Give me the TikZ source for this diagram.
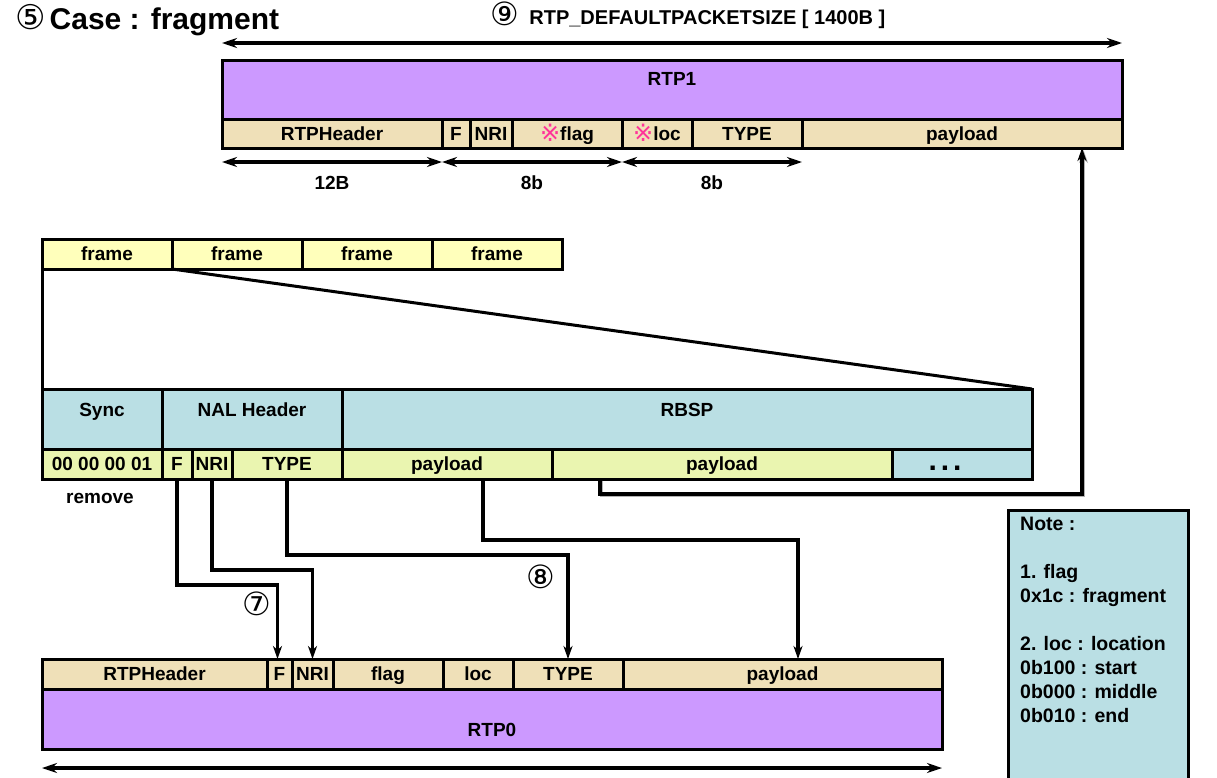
\documentclass[tikz,border=0pt]{standalone}
\usepackage{fontspec}
\setmainfont{Liberation Sans}
\newfontfamily\symf{DejaVu Sans}
\usetikzlibrary{arrows.meta}
\definecolor{rtpc}{RGB}{204,153,255}
\definecolor{tanc}{RGB}{239,224,184}
\definecolor{frmc}{RGB}{255,255,187}
\definecolor{nalc}{RGB}{186,223,228}
\definecolor{payc}{RGB}{234,245,176}
\definecolor{markc}{RGB}{255,51,153}
\newcommand\mkfield[7]{\node[box,fill=#2,minimum width={#4-#3},minimum height={#6-#5}] (#1) at ({(#3+#4)/2},{(#5+#6)/2}) {#7};}
\newcommand\rmk{{\symf\mdseries\fontsize{24}{24}\selectfont\color{markc}\raisebox{-1pt}{※}}}
\begin{document}
\begin{tikzpicture}[x=1pt,y=-1pt,
  lblfont/.style={font=\fontsize{19}{24}\selectfont\bfseries},
  box/.style={draw=black,line width=3pt,outer sep=0pt,inner sep=0pt,lblfont,text height=15pt,text depth=1.4pt},
  lbl/.style={lblfont,inner sep=0pt,text height=15pt,text depth=1.4pt},
  dbl/.style={{Stealth[length=15pt,width=10pt,inset=5pt]}-{Stealth[length=15pt,width=10pt,inset=5pt]},line width=3.2pt},
  conn/.style={-{Stealth[length=13pt,width=9pt,inset=4pt]},line width=3.2pt},
  plain/.style={line width=3pt},
  circ/.style={font=\symf\mdseries\fontsize{32}{34}\selectfont,inner sep=0pt}]
\useasboundingbox[fill=white] (0,0) rectangle (1217,777);

% title
\node[anchor=west,inner sep=0pt,font=\fontsize{30}{34}\selectfont\bfseries] (title) at (15,20) {{\symf\mdseries\fontsize{34}{36}\selectfont ⑤}\hspace{4pt}Case : fragment};
\node[lbl,font=\fontsize{20}{24}\selectfont\bfseries] (size) at (688,18) {{\symf\mdseries\fontsize{32}{34}\selectfont\raisebox{-1pt}{⑨}}\hspace{10pt}RTP\_DEFAULTPACKETSIZE [ 1400B ]};

% RTP1
\mkfield{r1}{rtpc}{222}{1122}{60}{119}{}
\node[lbl] (r1t) at (672,79) {RTP1};
\mkfield{r1H}{tanc}{222}{442}{119}{148}{RTPHeader}
\mkfield{r1F}{tanc}{442}{470}{119}{148}{F}
\mkfield{r1N}{tanc}{470}{512}{119}{148}{NRI}
\mkfield{r1fl}{tanc}{512}{622}{119}{148}{\rmk flag}
\mkfield{r1lc}{tanc}{622}{692}{119}{148}{\rmk loc}
\mkfield{r1T}{tanc}{692}{802}{119}{148}{TYPE}
\mkfield{r1P}{tanc}{802}{1122}{119}{148}{payload}

\draw[dbl] ([yshift=17pt]r1.north west) -- ([yshift=17pt]r1.north east);
\draw[dbl] ([yshift=-14pt]r1H.south west) -- ([yshift=-14pt]r1H.south east);
\draw[dbl] ([yshift=-14pt]r1F.south west) -- ([yshift=-14pt]r1fl.south east);
\draw[dbl] ([yshift=-14pt]r1lc.south west) -- ([yshift=-14pt]r1T.south east);
\node[lbl] (b12) at (332,183) {12B};
\node[lbl] (b8a) at (532,183) {8b};
\node[lbl] (b8b) at (712,183) {8b};

% frames
\mkfield{fr1}{frmc}{42}{172}{239}{269}{frame}
\mkfield{fr2}{frmc}{172}{302}{239}{269}{frame}
\mkfield{fr3}{frmc}{302}{432}{239}{269}{frame}
\mkfield{fr4}{frmc}{432}{562}{239}{269}{frame}

% NAL
\mkfield{nal}{nalc}{42}{1032}{389}{479}{}
\mkfield{sync}{nalc}{42}{162}{389}{449}{}
\mkfield{nalh}{nalc}{162}{342}{389}{449}{}
\mkfield{rbsp}{nalc}{342}{1032}{389}{449}{}
\node[lbl] (tsync) at (102,410) {Sync};
\node[lbl] (tnalh) at (252,410) {NAL Header};
\node[lbl] (trbsp) at (687,410) {RBSP};
\mkfield{n0}{payc}{42}{162}{449}{479}{00 00 00 01}
\mkfield{nF}{payc}{162}{192}{449}{479}{F}
\mkfield{nN}{payc}{192}{232}{449}{479}{NRI}
\mkfield{nT}{payc}{232}{342}{449}{479}{TYPE}
\mkfield{nP1}{payc}{342}{552}{449}{479}{payload}
\mkfield{nP2}{payc}{552}{892}{449}{479}{payload}
\mkfield{ndots}{nalc}{892}{1032}{449}{479}{\hspace*{-34pt}{\fontsize{30}{30}\selectfont.\hspace{4pt}.\hspace{4pt}.}}
\node[lbl] (rm) at (100,497) {remove};

\draw[plain] (fr1.south west) -- (sync.north west);
\draw[plain] (fr1.south east) -- (rbsp.north east);

% RTP0
\mkfield{pH}{tanc}{42}{267}{659}{689}{RTPHeader}
\mkfield{pF}{tanc}{267}{292}{659}{689}{F}
\mkfield{pN}{tanc}{292}{333}{659}{689}{NRI}
\mkfield{pfl}{tanc}{333}{443}{659}{689}{flag}
\mkfield{plc}{tanc}{443}{513}{659}{689}{loc}
\mkfield{pT}{tanc}{513}{623}{659}{689}{TYPE}
\mkfield{pP}{tanc}{623}{942}{659}{689}{payload}
\mkfield{pR}{rtpc}{42}{942}{689}{749}{}
\node[lbl] (pRt) at (492,730) {RTP0};
\draw[dbl] ([yshift=-19pt]pR.south west) -- ([yshift=-19pt]pR.south east);

% connectors
\draw[conn,gray!60] ([xshift=-120.5pt,yshift=-1.5pt]nP2.south) -- ++(0,15) -| ([xshift=121.5pt,yshift=-2pt]r1P.south);
\draw[conn] ([xshift=-122pt]nP2.south) -- ++(0,15) -| ([xshift=120pt]r1P.south);
\draw[conn] (nF.south) -- ++(0,106) -| ([xshift=-2pt]pF.north);
\draw[conn] (nN.south) -- ++(0,91) -| (pN.north);
\draw[conn] (nT.south) -- ++(0,76) -| (pT.north);
\draw[conn] ([xshift=36pt]nP1.south) -- ++(0,61) -| ([xshift=15.5pt]pP.north);
\node[circ] (c7) at (257,604) {⑦};
\node[circ] (c8) at (541,577) {⑧};

% note
\node[draw=black,line width=3pt,fill=nalc,minimum width=180,minimum height=300,anchor=north west,outer sep=0pt] (note) at (1008,510) {};
\node[inner sep=0pt,font=\fontsize{19.5}{24}\selectfont\bfseries,anchor=north west,align=left] (notet) at (1020,517) {Note :\\\mbox{}\\1. flag\\0x1c : fragment\\\mbox{}\\2. loc : location\\0b100 : start\\0b000 : middle\\0b010 : end};
\end{tikzpicture}
\end{document}
